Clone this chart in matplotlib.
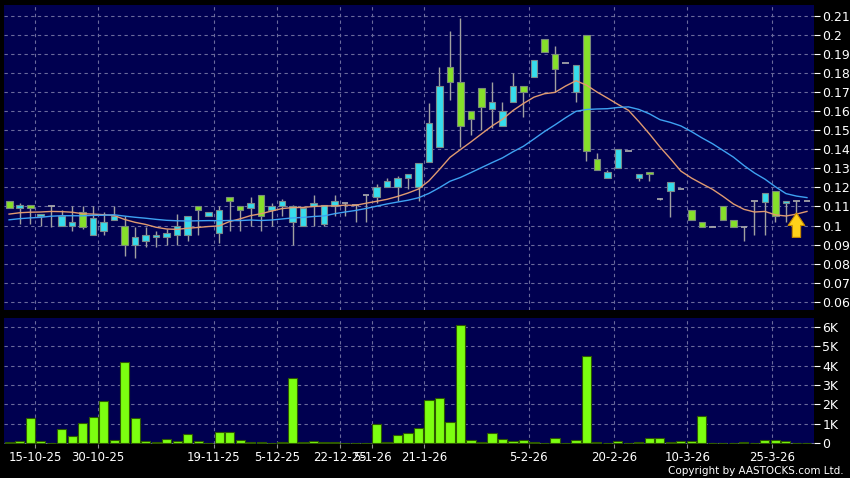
import numpy as np
import pandas as pd
import matplotlib
matplotlib.use('Agg')
import matplotlib.pyplot as plt

# OHLC diario
opens = [0.113, 0.109, 0.111, 0.105, 0.110, 0.100, 0.100, 0.107, 0.095, 0.097,
         0.103, 0.100, 0.090, 0.092, 0.094, 0.094, 0.095, 0.095, 0.110, 0.105,
         0.096, 0.115, 0.110, 0.109, 0.116, 0.108, 0.110, 0.102, 0.100, 0.110,
         0.101, 0.110, 0.112, 0.111, 0.116, 0.115, 0.120, 0.120, 0.125, 0.120,
         0.1335, 0.141, 0.183, 0.175, 0.160, 0.172, 0.161, 0.152, 0.165, 0.173,
         0.178, 0.198, 0.190, 0.185, 0.170, 0.200, 0.135, 0.125, 0.130, 0.139,
         0.125, 0.128, 0.114, 0.118, 0.119, 0.108, 0.102, 0.099, 0.110, 0.103,
         0.099, 0.113, 0.1125, 0.118, 0.112, 0.113, 0.113]
highs = [0.113, 0.112, 0.111, 0.106, 0.110, 0.108, 0.110, 0.110, 0.110, 0.107,
         0.110, 0.105, 0.099, 0.099, 0.097, 0.098, 0.106, 0.105, 0.110, 0.107,
         0.110, 0.115, 0.110, 0.115, 0.116, 0.112, 0.114, 0.111, 0.109, 0.116,
         0.111, 0.116, 0.112, 0.111, 0.116, 0.122, 0.125, 0.126, 0.127, 0.133,
         0.164, 0.183, 0.202, 0.209, 0.160, 0.172, 0.175, 0.165, 0.180, 0.173,
         0.187, 0.198, 0.194, 0.185, 0.184, 0.200, 0.138, 0.129, 0.140, 0.139,
         0.127, 0.128, 0.1145, 0.123, 0.119, 0.108, 0.102, 0.099, 0.110, 0.103,
         0.099, 0.113, 0.117, 0.118, 0.113, 0.113, 0.113]
lows = [0.109, 0.101, 0.101, 0.100, 0.099, 0.100, 0.097, 0.098, 0.095, 0.095,
        0.103, 0.084, 0.083, 0.089, 0.089, 0.090, 0.090, 0.092, 0.095, 0.105,
        0.091, 0.097, 0.097, 0.100, 0.097, 0.100, 0.105, 0.090, 0.100, 0.100,
        0.100, 0.105, 0.105, 0.102, 0.102, 0.112, 0.120, 0.113, 0.119, 0.113,
        0.1335, 0.141, 0.166, 0.141, 0.1475, 0.150, 0.151, 0.152, 0.165, 0.157,
        0.178, 0.191, 0.170, 0.185, 0.165, 0.134, 0.129, 0.125, 0.130, 0.139,
        0.1235, 0.1235, 0.1135, 0.1045, 0.119, 0.103, 0.099, 0.099, 0.103, 0.099,
        0.092, 0.095, 0.095, 0.102, 0.102, 0.106, 0.113]
closes = [0.109, 0.111, 0.109, 0.106, 0.110, 0.105, 0.102, 0.099, 0.104, 0.102,
          0.105, 0.090, 0.094, 0.095, 0.095, 0.096, 0.100, 0.105, 0.108, 0.107,
          0.108, 0.113, 0.108, 0.112, 0.105, 0.110, 0.113, 0.110, 0.109, 0.112,
          0.111, 0.113, 0.112, 0.111, 0.116, 0.120, 0.1235, 0.125, 0.127, 0.133,
          0.154, 0.173, 0.175, 0.152, 0.156, 0.162, 0.165, 0.160, 0.173, 0.170,
          0.187, 0.191, 0.182, 0.185, 0.184, 0.139, 0.129, 0.128, 0.140, 0.139,
          0.127, 0.127, 0.114, 0.123, 0.119, 0.103, 0.099, 0.099, 0.103, 0.099,
          0.099, 0.113, 0.117, 0.105, 0.113, 0.113, 0.113]
# fechamentos anteriores a janela (estimados pelo nivel inicial das medias)
prev_closes = [0.099, 0.101, 0.100, 0.098, 0.100, 0.102, 0.100, 0.099, 0.101, 0.100,
               0.104, 0.106, 0.105, 0.107, 0.106, 0.105, 0.107, 0.106, 0.105]
# volume em milhares
volume_k = [0.05, 0.12, 1.32, 0.12, 0.0, 0.72, 0.38, 1.03, 1.35, 2.2,
            0.15, 4.17, 1.32, 0.12, 0.05, 0.24, 0.12, 0.46, 0.12, 0.0,
            0.58, 0.57, 0.17, 0.07, 0.07, 0.0, 0.05, 3.36, 0.07, 0.12,
            0.07, 0.07, 0.0, 0.0, 0.03, 0.98, 0.07, 0.45, 0.53, 0.8,
            2.23, 2.35, 1.11, 6.07, 0.17, 0.07, 0.55, 0.2, 0.12, 0.17,
            0.05, 0.02, 0.27, 0.0, 0.17, 4.51, 0.07, 0.0, 0.14, 0.0,
            0.05, 0.27, 0.26, 0.07, 0.12, 0.12, 1.39, 0.0, 0.02, 0.02,
            0.05, 0.04, 0.15, 0.17, 0.12, 0.04, 0.0]
date_pos = [2.5, 8.5, 19.5, 25.5, 31.5, 34.6, 39.5, 49.5, 57.6, 64.6, 72.7]
date_labels = ['15-10-25', '30-10-25', '19-11-25', '5-12-25', '22-12-25', '5-1-26',
               '21-1-26', '5-2-26', '20-2-26', '10-3-26', '25-3-26']
price_ticks = [0.06, 0.07, 0.08, 0.09, 0.1, 0.11, 0.12, 0.13, 0.14, 0.15,
               0.16, 0.17, 0.18, 0.19, 0.2, 0.21]
vol_ticks = [0, 1, 2, 3, 4, 5, 6]
signal_idx = [75]

df = pd.DataFrame({'o': opens, 'h': highs, 'l': lows, 'c': closes, 'v': volume_k})
x = np.arange(len(df))
allc = pd.Series(prev_closes + closes)
n0 = len(prev_closes)
ma10 = allc.rolling(10, min_periods=1).mean().values[n0:]
ma20 = allc.rolling(20, min_periods=1).mean().values[n0:]

BG = '#000050'
GRID = '#6a6a9c'
GREEN = '#86e02a'
CYAN = '#36dcec'

fig = plt.figure(figsize=(8.5, 4.78), dpi=100, facecolor='black')
ax = fig.add_axes([4 / 850, 1 - 309.5 / 478, 810 / 850, 304.5 / 478])
axv = fig.add_axes([4 / 850, 1 - 444.3 / 478, 810 / 850, 126.3 / 478])

for a in (ax, axv):
    a.set_facecolor(BG)
    for s in a.spines.values():
        s.set_visible(False)
    a.set_xlim(-0.48, 76.67)
    a.set_xticks(date_pos)
    a.grid(True, color=GRID, linestyle=(0, (3, 3)), linewidth=0.8)
    a.set_axisbelow(True)
    a.yaxis.tick_right()
    a.tick_params(axis='y', colors='white', labelsize=9, length=4, pad=2,
                  width=0.8)

# velas
up = df['c'] > df['o']
down = df['c'] < df['o']
flat = df['c'] == df['o']
ax.vlines(x, df['l'], df['h'], color='#a0a0a0', lw=1, zorder=2)
ax.bar(x[up], (df['c'] - df['o'])[up], bottom=df['o'][up], width=0.66,
       color=CYAN, edgecolor='#7a8a8a', lw=0.8, zorder=3)
ax.bar(x[down], (df['o'] - df['c'])[down], bottom=df['c'][down], width=0.66,
       color=GREEN, edgecolor='#7a8a7a', lw=0.8, zorder=3)
ax.hlines(df['c'][flat], x[flat] - 0.33, x[flat] + 0.33, color='#b0b0b0',
          lw=1.2, zorder=3)

ax.plot(x, ma10, color='#e09a70', lw=1, zorder=4)
ax.plot(x, ma20, color='#3ea2f2', lw=1, zorder=4)

# seta de sinal
for i in signal_idx:
    ax.annotate('', xy=(i, 0.1066), xytext=(i, 0.0938),
                arrowprops=dict(arrowstyle='simple,head_width=1.0,head_length=0.75,tail_width=0.5',
                                mutation_scale=12, fc='#ffd21a', ec='#c88a00',
                                lw=0.8, shrinkA=0, shrinkB=0), zorder=5)

ax.set_ylim(0.056, 0.2156)
ax.set_yticks(price_ticks)
ax.set_yticklabels(['%g' % v for v in price_ticks])
ax.tick_params(axis='x', length=0, labelbottom=False)

axv.bar(x, df['v'], width=0.86, color='#7cff10', edgecolor='#2e5a00', lw=0.8,
        zorder=3)
axv.set_ylim(-0.05, 6.45)
axv.set_yticks(vol_ticks)
axv.set_yticklabels(['0'] + ['%dK' % v for v in vol_ticks[1:]])
axv.set_xticklabels(date_labels)
axv.tick_params(axis='x', colors='white', labelsize=8.5, length=3, pad=2,
                color='#909090')

fig.text(0.992, 0.005, 'Copyright by AASTOCKS.com Ltd.', color='white',
         fontsize=7.5, ha='right', va='bottom')

fig.savefig('out.png', dpi=100, facecolor='black')
